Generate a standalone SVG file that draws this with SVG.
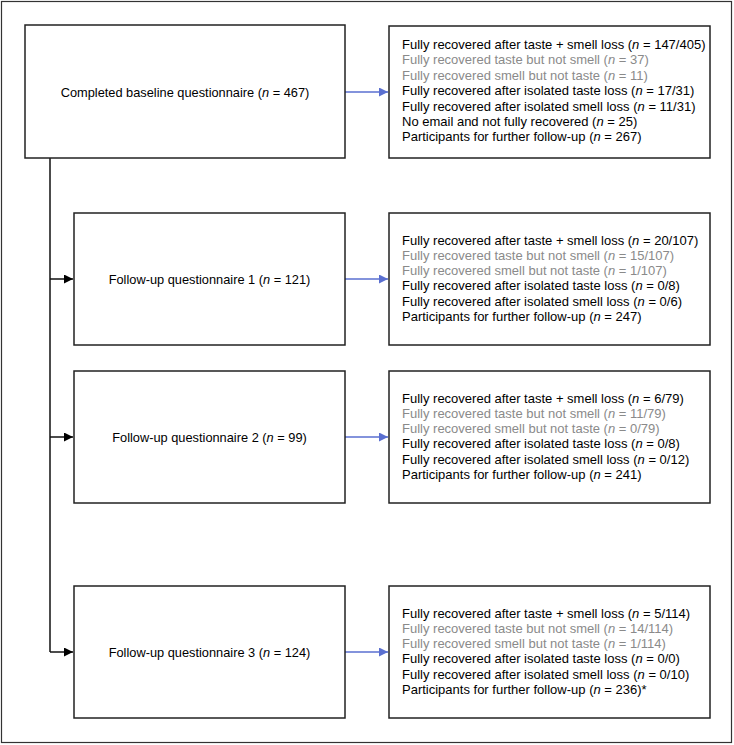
<svg xmlns="http://www.w3.org/2000/svg" width="734" height="745" viewBox="0 0 734 745">
<defs>
<style>
text{font-family:"Liberation Sans",Arial,sans-serif;font-size:12.8px;fill:#000}
.r text{font-size:13px}
.box{fill:#fff;stroke:#222;stroke-width:1.5}
.g{fill:#8a8a8a}
.c{text-anchor:middle}
.blue{stroke:#5a6fd0;stroke-width:1.3;fill:none}
.blk{stroke:#111;stroke-width:1.5;fill:none}
</style>
<marker id="ab" viewBox="0 0 10 10" refX="10" refY="5" markerWidth="11" markerHeight="9" markerUnits="userSpaceOnUse" orient="auto"><path d="M0,0L10,5L0,10z" fill="#5a6fd0"/></marker>
<marker id="ak" viewBox="0 0 10 10" refX="10" refY="5" markerWidth="11" markerHeight="9" markerUnits="userSpaceOnUse" orient="auto"><path d="M0,0L10,5L0,10z" fill="#000"/></marker>
</defs>
<rect x="1.5" y="1.5" width="730" height="741" fill="#fff" stroke="#333" stroke-width="1.2"/>
<g id="connectors">
<path class="blk" d="M50,158V652"/>
<path class="blk" d="M50,279H73" marker-end="url(#ak)"/>
<path class="blk" d="M50,437H73" marker-end="url(#ak)"/>
<path class="blk" d="M50,652H73" marker-end="url(#ak)"/>
<path class="blue" d="M345,92H388" marker-end="url(#ab)"/>
<path class="blue" d="M345,279H388" marker-end="url(#ab)"/>
<path class="blue" d="M345,437H388" marker-end="url(#ab)"/>
<path class="blue" d="M345,652H388" marker-end="url(#ab)"/>
</g>
<g id="baseline">
<rect class="box" x="25" y="25" width="320" height="133"/>
<text class="c" x="185" y="96.5">Completed baseline questionnaire (<tspan font-style="italic">n</tspan> = 467)</text>
</g>
<g id="baseline-results" class="r">
<rect class="box" x="389" y="26" width="321" height="132"/>
<text x="402" y="49">Fully recovered after taste + smell loss (<tspan font-style="italic">n</tspan> = 147/405)</text>
<text class="g" x="402" y="64.4">Fully recovered taste but not smell (<tspan font-style="italic">n</tspan> = 37)</text>
<text class="g" x="402" y="79.8">Fully recovered smell but not taste (<tspan font-style="italic">n</tspan> = 11)</text>
<text x="402" y="95.2">Fully recovered after isolated taste loss (<tspan font-style="italic">n</tspan> = 17/31)</text>
<text x="402" y="110.6">Fully recovered after isolated smell loss (<tspan font-style="italic">n</tspan> = 11/31)</text>
<text x="402" y="126">No email and not fully recovered (<tspan font-style="italic">n</tspan> = 25)</text>
<text x="402" y="141.4">Participants for further follow-up (<tspan font-style="italic">n</tspan> = 267)</text>
</g>
<g id="fu1">
<rect class="box" x="74" y="213" width="271" height="132"/>
<text class="c" x="209.5" y="283.5">Follow-up questionnaire 1 (<tspan font-style="italic">n</tspan> = 121)</text>
</g>
<g id="fu1-results" class="r">
<rect class="box" x="389" y="213" width="321" height="132"/>
<text x="402" y="244.7">Fully recovered after taste + smell loss (<tspan font-style="italic">n</tspan> = 20/107)</text>
<text class="g" x="402" y="259.9">Fully recovered taste but not smell (<tspan font-style="italic">n</tspan> = 15/107)</text>
<text class="g" x="402" y="275.1">Fully recovered smell but not taste (<tspan font-style="italic">n</tspan> = 1/107)</text>
<text x="402" y="290.3">Fully recovered after isolated taste loss (<tspan font-style="italic">n</tspan> = 0/8)</text>
<text x="402" y="305.5">Fully recovered after isolated smell loss (<tspan font-style="italic">n</tspan> = 0/6)</text>
<text x="402" y="320.7">Participants for further follow-up (<tspan font-style="italic">n</tspan> = 247)</text>
</g>
<g id="fu2">
<rect class="box" x="74" y="371" width="271" height="132"/>
<text class="c" x="209.5" y="441.5">Follow-up questionnaire 2 (<tspan font-style="italic">n</tspan> = 99)</text>
</g>
<g id="fu2-results" class="r">
<rect class="box" x="389" y="371" width="321" height="132"/>
<text x="402" y="402.7">Fully recovered after taste + smell loss (<tspan font-style="italic">n</tspan> = 6/79)</text>
<text class="g" x="402" y="417.9">Fully recovered taste but not smell (<tspan font-style="italic">n</tspan> = 11/79)</text>
<text class="g" x="402" y="433.1">Fully recovered smell but not taste (<tspan font-style="italic">n</tspan> = 0/79)</text>
<text x="402" y="448.3">Fully recovered after isolated taste loss (<tspan font-style="italic">n</tspan> = 0/8)</text>
<text x="402" y="463.5">Fully recovered after isolated smell loss (<tspan font-style="italic">n</tspan> = 0/12)</text>
<text x="402" y="478.7">Participants for further follow-up (<tspan font-style="italic">n</tspan> = 241)</text>
</g>
<g id="fu3">
<rect class="box" x="74" y="586" width="271" height="132"/>
<text class="c" x="209.5" y="656.5">Follow-up questionnaire 3 (<tspan font-style="italic">n</tspan> = 124)</text>
</g>
<g id="fu3-results" class="r">
<rect class="box" x="389" y="586" width="321" height="132"/>
<text x="402" y="617.7">Fully recovered after taste + smell loss (<tspan font-style="italic">n</tspan> = 5/114)</text>
<text class="g" x="402" y="632.9">Fully recovered taste but not smell (<tspan font-style="italic">n</tspan> = 14/114)</text>
<text class="g" x="402" y="648.1">Fully recovered smell but not taste (<tspan font-style="italic">n</tspan> = 1/114)</text>
<text x="402" y="663.3">Fully recovered after isolated taste loss (<tspan font-style="italic">n</tspan> = 0/0)</text>
<text x="402" y="678.5">Fully recovered after isolated smell loss (<tspan font-style="italic">n</tspan> = 0/10)</text>
<text x="402" y="693.7">Participants for further follow-up (<tspan font-style="italic">n</tspan> = 236)*</text>
</g>
</svg>
